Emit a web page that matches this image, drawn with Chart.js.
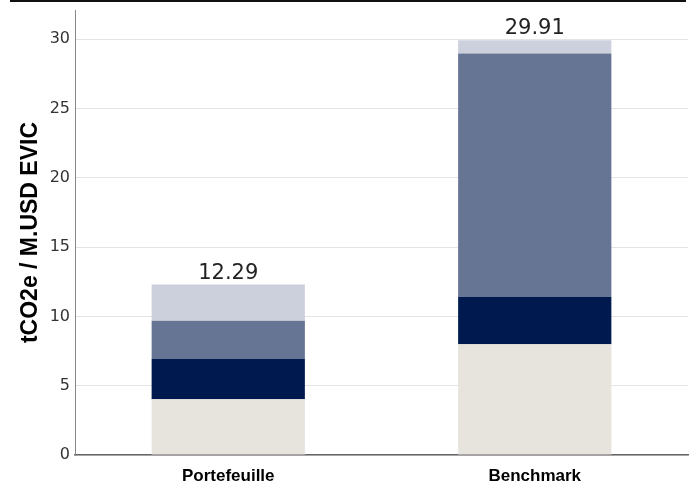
<!DOCTYPE html>
<html>
<head>
<meta charset="utf-8">
<script src="https://cdn.jsdelivr.net/npm/chart.js@4/dist/chart.umd.min.js"></script>
<style>
  html, body { margin: 0; padding: 0; background: #fff; }
  #wrap { position: relative; width: 692px; height: 488px; }
  #topline { position: absolute; left: 10px; top: 0; width: 676px; height: 2px; background: #111; }
  canvas { position: absolute; left: 0; top: 0; }
</style>
</head>
<body>
<div id="wrap">
  <canvas id="emissionsChart" width="692" height="488"></canvas>
  <div id="topline"></div>
</div>
<script>
const categories = ['Portefeuille', 'Benchmark'];

// stacked segments, bottom to top
const segmentBase = [4.02, 7.98];
const segmentNavy = [2.90, 3.41];
const segmentSlate = [2.77, 17.57];
const segmentLight = [2.60, 0.95];

const yTicks = [0, 5, 10, 15, 20, 25, 30];

const totalsLabels = {
    id: 'totalsLabels',
    afterDatasetsDraw(chart) {
        const ctx = chart.ctx;
        const lastMeta = chart.getDatasetMeta(chart.data.datasets.length - 1);
        ctx.save();
        ctx.font = '21px "DejaVu Sans"';
        ctx.fillStyle = '#222';
        ctx.textAlign = 'center';
        ctx.textBaseline = 'alphabetic';
        categories.forEach((cat, i) => {
            let total = 0;
            chart.data.datasets.forEach(ds => { total += ds.data[i]; });
            const bar = lastMeta.data[i];
            ctx.fillText(total.toFixed(2), bar.x, bar.y - 6);
        });
        ctx.restore();
    }
};

const chart = new Chart(document.getElementById('emissionsChart').getContext('2d'), {
    type: 'bar',
    data: {
        labels: categories,
        datasets: [
            { label: 'Scope 1', data: segmentBase, backgroundColor: '#e7e4de' },
            { label: 'Scope 2', data: segmentNavy, backgroundColor: '#001a4f' },
            { label: 'Scope 3 amont', data: segmentSlate, backgroundColor: '#667594' },
            { label: 'Scope 3 aval', data: segmentLight, backgroundColor: '#cbd0dc' }
        ]
    },
    options: {
        responsive: false,
        animation: false,
        layout: { padding: { top: 10, right: 4, left: 0, bottom: 0 } },
        plugins: {
            legend: { display: false },
            tooltip: { enabled: false }
        },
        datasets: {
            bar: { categoryPercentage: 1, barPercentage: 0.5, borderWidth: 0 }
        },
        scales: {
            x: {
                stacked: true,
                afterFit(scale) {
                    scale.height = 33;
                },
                grid: { display: false },
                border: { color: '#666', width: 1.5 },
                ticks: {
                    color: '#000',
                    font: { family: '"Liberation Sans", Arial', size: 17, weight: 'bold' },
                    padding: 3
                }
            },
            y: {
                stacked: true,
                min: 0,
                max: 32.1,
                afterBuildTicks(scale) {
                    scale.ticks = yTicks.map(v => ({ value: v }));
                },
                afterFit(scale) {
                    scale.width = 75;
                    scale.paddingTop = 0;
                    scale.paddingBottom = 0;
                },
                grid: { color: '#e4e4e4', drawTicks: false },
                border: { color: '#888', width: 1 },
                ticks: {
                    color: '#333',
                    font: { family: '"DejaVu Sans"', size: 16 },
                    padding: 5
                },
                title: {
                    display: true,
                    text: 'tCO2e / M.USD EVIC',
                    color: '#000',
                    font: { family: '"Liberation Sans", Arial', size: 23, weight: 'bold' },
                    padding: { top: 17, bottom: 0 }
                }
            }
        }
    },
    plugins: [totalsLabels]
});
</script>
</body>
</html>
